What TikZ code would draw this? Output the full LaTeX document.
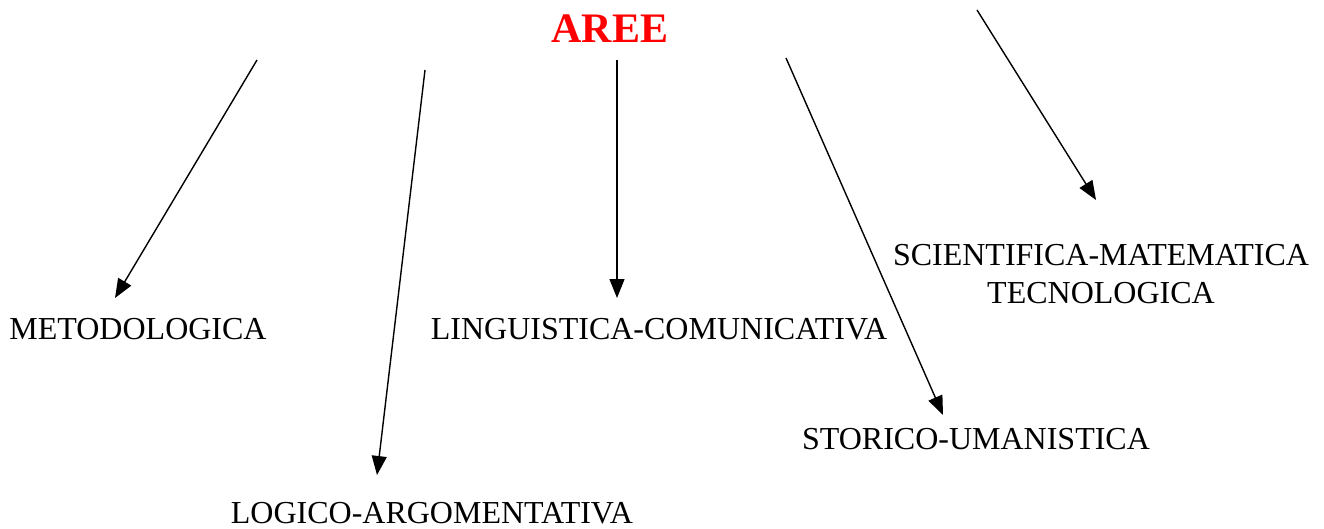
\documentclass[tikz,border=0pt]{standalone}
\usepackage{fontspec}
\setmainfont{Liberation Serif}
\usetikzlibrary{arrows.meta}
\begin{document}
\begin{tikzpicture}[x=1pt, y=-1pt,
		area/.style={font=\fontsize{32}{38}\selectfont, inner sep=0pt, align=center},
		freccia/.style={line width=1.4pt, -{Triangle[length=19pt, width=15pt]}}]
		\useasboundingbox (0,0) rectangle (1324,528);

		\node[font=\fontsize{42}{46}\selectfont\bfseries, text=red, inner sep=0pt] (aree) at (610,29) {AREE};

		\node[area] (metod) at (138,329) {METODOLOGICA};
		\node[area] (logico) at (432,513) {LOGICO-ARGOMENTATIVA};
		\node[area] (lingu) at (659,329) {LINGUISTICA-COMUNICATIVA};
		\node[area] (storico) at (976,439) {STORICO-UMANISTICA};
		\node[area] (scient) at (1101,274) {SCIENTIFICA-MATEMATICA\\TECNOLOGICA};

		\coordinate (a1) at (257,60);  \coordinate (b1) at (115,298);
		\coordinate (a2) at (425,70);  \coordinate (b2) at (377,475);
		\coordinate (a3) at (617,60);  \coordinate (b3) at (617,298);
		\coordinate (a4) at (786,58);  \coordinate (b4) at (943,415);
		\coordinate (a5) at (977,10);  \coordinate (b5) at (1096,200);

		\draw[freccia] (a1) -- (b1);
		\draw[freccia] (a2) -- (b2);
		\draw[freccia] (a3) -- (b3);
		\draw[freccia] (a4) -- (b4);
		\draw[freccia] (a5) -- (b5);
	\end{tikzpicture}
\end{document}
